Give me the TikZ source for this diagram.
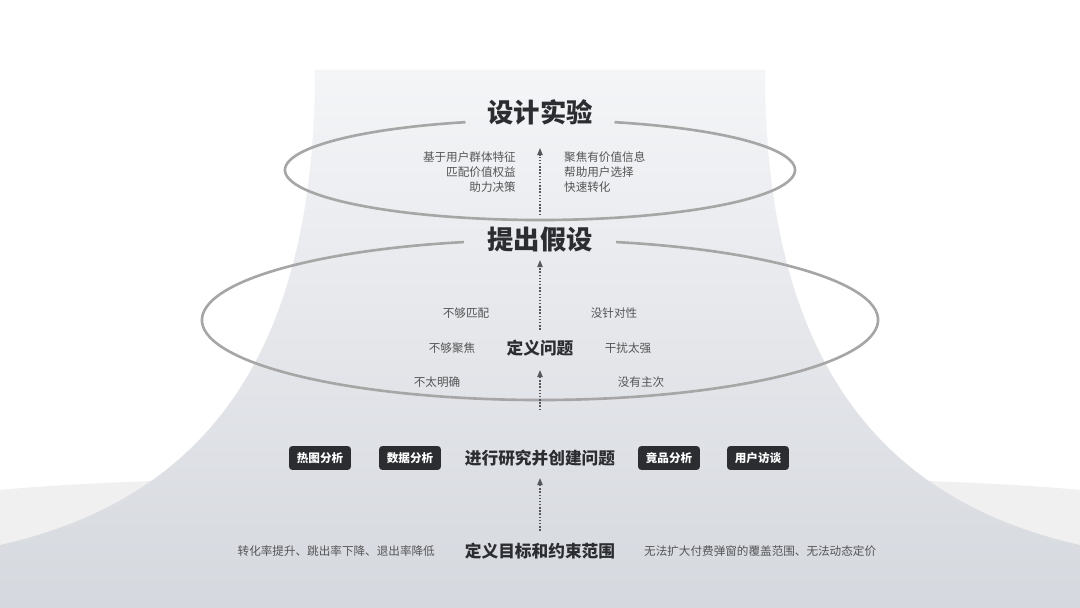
\documentclass[tikz,border=0pt]{standalone}
\usepackage{fontspec}
\setmainfont{Noto Sans CJK SC}
\usetikzlibrary{arrows.meta}
\definecolor{ink}{HTML}{2B2D30}
\definecolor{soft}{HTML}{555555}
\definecolor{bgtop}{HTML}{F4F5F7}
\definecolor{bgbot}{HTML}{D5D8DE}
\tikzset{
  title/.style={font=\fontsize{15}{15}\selectfont\bfseries, text=ink},
  heading/.style={font=\fontsize{9.5}{10}\selectfont\bfseries, text=ink},
  note/.style={font=\fontsize{6.6}{8.5}\selectfont, text=soft},
  tag/.style={fill=ink, rounded corners=2pt, text=white, minimum width=1.24cm, minimum height=0.48cm, font=\fontsize{6.6}{7}\selectfont\bfseries},
  link/.style={densely dotted, thick, ink!80, -{Triangle[width=3pt,length=4pt]}},
  ring/.style={line width=1.5pt, gray!70}
}
\begin{document}
\begin{tikzpicture}[x=0.02cm, y=-0.02cm]

    % background
    \fill[white] (0,0) rectangle (1080,608);
    \useasboundingbox (0,0) rectangle (1080,608);
    \fill[gray!12] (0,490) .. controls (200,470) and (880,470) .. (1080,490) -- (1080,608) -- (0,608) -- cycle;
    \shade[top color=bgtop, bottom color=bgbot] (315,70) -- (765,70) .. controls (765,360) and (880,500) .. (1080,545) -- (1080,608) -- (0,608) -- (0,545) .. controls (200,500) and (315,360) .. (315,70);

    % rings, open behind the titles
    \draw[ring] ({540+255*cos(287)},{170+50*sin(287)}) arc[start angle=287, end angle=613, x radius=255, y radius=50];
    \draw[ring] ({540+338*cos(283)},{320+80*sin(283)}) arc[start angle=283, end angle=617, x radius=338, y radius=80];

    % levels
    \node[title] (design) at (540,112) {设计实验};
    \node[title] (hypo) at (540,240) {提出假设};
    \node[heading] (define) at (540,348) {定义问题};
    \node[heading] (research) at (540,458) {进行研究并创建问题};
    \node[heading] (goal) at (540,551) {定义目标和约束范围};

    % notes
    \node[note, align=right, anchor=east] (hypoL) at (522,172) {基于用户群体特征\\匹配价值权益\\助力决策};
    \node[note, align=left, anchor=west] (hypoR) at (558,172) {聚焦有价值信息\\帮助用户选择\\快速转化};
    \node[note] (p1) at (466,313) {不够匹配};
    \node[note] (p2) at (452,348) {不够聚焦};
    \node[note] (p3) at (437,382) {不太明确};
    \node[note] (p4) at (614,313) {没针对性};
    \node[note] (p5) at (628,348) {干扰太强};
    \node[note] (p6) at (641,382) {没有主次};
    \node[note, anchor=east] (goalL) at (441,551) {转化率提升、跳出率下降、退出率降低};
    \node[note, anchor=west] (goalR) at (638,551) {无法扩大付费弹窗的覆盖范围、无法动态定价};

    % tools
    \node[tag] (heat) at (320,458) {热图分析};
    \node[tag] (data) at (410,458) {数据分析};
    \node[tag] (rival) at (669,458) {竟品分析};
    \node[tag] (user) at (758,458) {用户访谈};

    % arrows
    \draw[link] (540,215) -- (540,148);
    \draw[link] (define.north) ++(0,-4) -- (540,260);
    \draw[link] (540,410) -- (540,370);
    \draw[link] (goal.north) ++(0,-6) -- (540,478);

\end{tikzpicture}
\end{document}
